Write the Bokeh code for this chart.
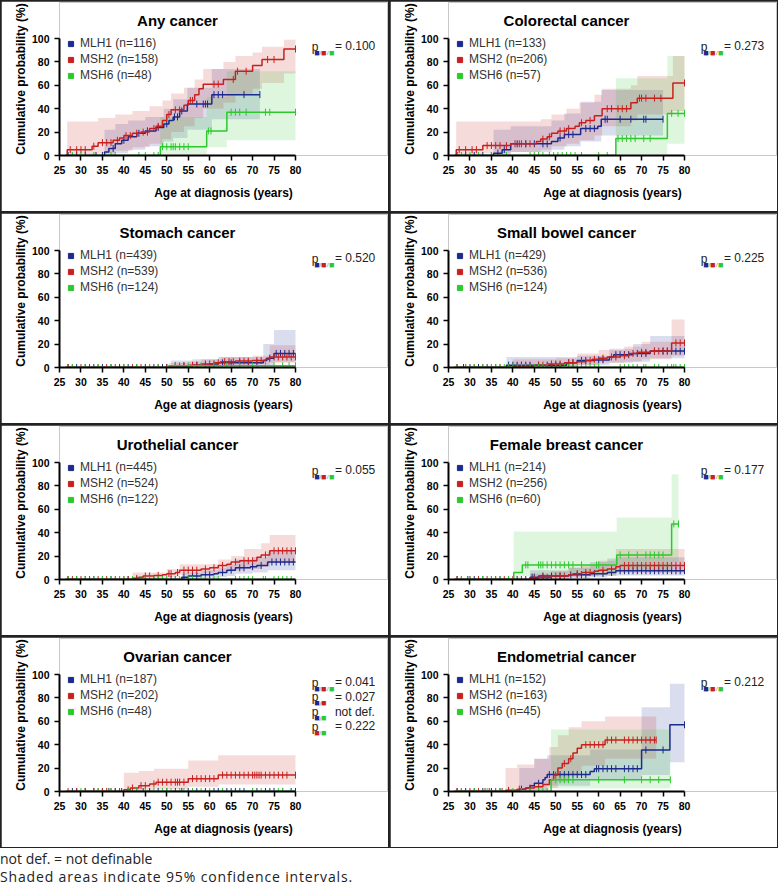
import numpy as np
from bokeh.plotting import figure
from bokeh.models import Label, Legend, LegendItem, Div, FixedTicker
from bokeh.layouts import gridplot, column
from bokeh.embed import file_html
from bokeh.resources import INLINE

GENES = ["MLH1", "MSH2", "MSH6"]
COLORS = ["#1b2a8c", "#c8201e", "#2ec82e"]
X_TICKS = [25, 30, 35, 40, 45, 50, 55, 60, 65, 70, 75, 80]
Y_TICKS = [0, 20, 40, 60, 80, 100]

TITLES = ["Any cancer", "Colorectal cancer", "Stomach cancer", "Small bowel cancer",
          "Urothelial cancer", "Female breast cancer", "Ovarian cancer", "Endometrial cancer"]
N_ANY = [116, 158, 48]
N_CRC = [133, 206, 57]
N_STO = [439, 539, 124]
N_SBW = [429, 536, 124]
N_URO = [445, 524, 122]
N_BRE = [214, 256, 60]
N_OVA = [187, 202, 48]
N_END = [152, 163, 45]
P_ANY = [("BRG", "= 0.100")]
P_CRC = [("BRG", "= 0.273")]
P_STO = [("BRG", "= 0.520")]
P_SBW = [("BRG", "= 0.225")]
P_URO = [("BRG", "= 0.055")]
P_BRE = [("BRG", "= 0.177")]
P_OVA = [("BRG", "= 0.041"), ("BR", "= 0.027"), ("BG", "not def."), ("RG", "= 0.222")]
P_END = [("BRG", "= 0.212")]

# ---------------- Any cancer ----------------
any_mlh1_x = [26.5, 35.5, 36.5, 38, 39.5, 41, 43, 45, 47.5, 49.3, 50.5, 51.5, 53, 54.8, 60.5, 71.7]
any_mlh1_y = [0, 3, 6, 10, 13, 16, 19, 21, 24, 27, 30, 33, 38, 44, 52, 52]
any_mlh1_c = [27, 29, 31, 33.5, 35, 37.5, 40, 43.5, 45.5, 48, 50, 51.8, 52.5, 53.5, 57, 58.5, 59, 59.5, 61, 62, 63, 68, 71.7]
any_mlh1_cx = [35.5, 38, 41, 45, 49.3, 51.5, 54.8, 60.5, 71.7]
any_mlh1_lo = [0.5, 2, 5, 8, 12, 15, 22, 31, 31]
any_mlh1_hi = [22, 27, 30, 33, 40, 48, 58, 74, 74]
any_msh2_x = [26.3, 26.8, 32.6, 34, 37.5, 39, 40, 42, 44, 46, 47.5, 49, 50, 51, 54, 55, 56.5, 57.5, 58.5, 63.2, 66, 70, 72.2, 77.3, 80]
any_msh2_y = [0, 5, 8, 11, 13, 15, 17, 19, 20, 23, 25, 30, 35, 39, 43, 47, 52, 57, 61, 65, 72, 77, 82, 91, 91]
any_msh2_c = [27.5, 29, 30, 31, 33, 35, 36, 37, 38.5, 40.5, 41.5, 43, 44.5, 45.5, 47, 48, 50.5, 52, 53, 55.5, 56, 61, 62, 65.5, 66.5, 68.5, 73.5, 75, 80]
any_msh2_cx = [26.8, 34, 38, 42, 46, 49, 51, 54, 56.5, 58.5, 63.2, 66, 70, 72.2, 77.3, 80]
any_msh2_lo = [1, 2, 4, 7, 10, 14, 20, 25, 32, 40, 45, 52, 57, 62, 70, 70]
any_msh2_hi = [29, 32, 35, 38, 42, 47, 53, 58, 65, 74, 80, 85, 88, 93, 99, 99]
any_msh6_x = [26.5, 48.5, 59.3, 64, 80]
any_msh6_y = [0, 7.5, 21, 37, 37]
any_msh6_c = [28, 30, 33, 37, 38, 43.5, 45, 47, 48, 49, 50, 51, 51.5, 52, 53, 54, 55, 59.7, 60.3, 65, 66, 67, 68.5, 73, 74, 80]
any_msh6_cx = [48.5, 59.3, 64, 80]
any_msh6_lo = [1, 7, 13, 13]
any_msh6_hi = [33, 50, 72, 72]

# ---------------- Colorectal cancer ----------------
crc_mlh1_x = [26.5, 35.5, 37.5, 39.5, 49, 50.5, 52, 55.8, 59.8, 60.6, 75]
crc_mlh1_y = [0, 2, 5, 10, 12, 15, 18, 23, 25, 31, 31]
crc_mlh1_c = [27, 29, 31, 33, 35, 36.5, 38, 41, 43, 45, 47, 48, 51, 53, 54, 57, 58, 59, 61.5, 62, 65, 67.5, 70.5, 71, 75]
crc_mlh1_cx = [35.5, 39.5, 49, 52, 55.8, 60.6, 75]
crc_mlh1_lo = [0.5, 3, 5, 8, 12, 17, 17]
crc_mlh1_hi = [22, 25, 30, 36, 46, 56, 56]
crc_msh2_x = [26.3, 26.8, 33, 39.5, 45.5, 46.5, 48, 49, 50.5, 52.5, 54.5, 55.5, 57, 59, 60.8, 67.5, 69, 77.3, 80]
crc_msh2_y = [0, 5, 8.5, 10, 12, 14, 16, 19, 21, 23, 25, 28, 30, 34, 40, 45, 49, 62, 62]
crc_msh2_c = [27.5, 29, 30.5, 31.5, 34, 35, 36, 37, 38.5, 40.5, 41.5, 42, 43, 44, 47, 48.5, 51, 52, 53, 56, 58, 62, 63, 64.5, 65.5, 66.5, 69.5, 70, 71, 73, 74.5, 80]
crc_msh2_cx = [26.8, 33, 39.5, 46.5, 49, 52.5, 55.5, 59, 60.8, 67.5, 69, 77.3, 80]
crc_msh2_lo = [1, 2, 3, 5, 8, 10, 13, 17, 25, 30, 35, 38, 38]
crc_msh2_hi = [29, 29, 29, 31, 35, 40, 45, 52, 57, 60, 68, 85, 85]
crc_msh6_x = [26.5, 64, 76, 80]
crc_msh6_y = [0, 14.5, 36, 36]
crc_msh6_c = [28, 30, 32, 35, 38.5, 44, 45, 46, 47, 48.5, 49.5, 50.5, 51.5, 52.5, 53.5, 54.5, 56, 60, 62, 64.5, 65.5, 66.5, 67.5, 68.5, 70.5, 72, 77, 78.5, 80]
crc_msh6_cx = [64, 76, 80]
crc_msh6_lo = [1, 10, 10]
crc_msh6_hi = [66, 85, 85]

# ---------------- Stomach cancer ----------------
sto_mlh1_x = [26.5, 51, 56, 60, 62, 72.5, 73.3, 75, 80]
sto_mlh1_y = [0, 1.5, 2, 3, 4, 6, 8, 12, 12]
sto_mlh1_c = [27, 29, 31, 33, 35, 37, 39, 41, 43, 45, 47, 49, 50, 52, 54, 57, 59, 61, 63, 65, 67, 69, 71, 74, 75.5, 76.5, 77.5, 78.5, 79.5]
sto_mlh1_cx = [51, 56, 62, 72.5, 75, 80]
sto_mlh1_lo = [0.2, 0.5, 1, 2, 5, 5]
sto_mlh1_hi = [6, 7, 9, 20, 32, 32]
sto_msh2_x = [26.3, 50.5, 55, 58, 61, 62.5, 66, 70, 73, 74, 80]
sto_msh2_y = [0, 1.2, 2, 3, 4, 5, 5.5, 6, 7, 9, 9]
sto_msh2_c = [27, 28, 30, 32, 34, 36, 38, 40, 42, 44, 46, 48, 50, 52, 53, 54, 56, 57, 59, 60, 62, 63.5, 64.5, 65.5, 67, 68, 69, 71, 72, 75, 76, 77, 78, 79, 80]
sto_msh2_cx = [50.5, 55, 58, 62.5, 70, 74, 80]
sto_msh2_lo = [0.2, 0.5, 1, 2, 2.5, 4, 4]
sto_msh2_hi = [4, 5, 7, 9, 10, 19, 19]
sto_msh6_x = [26.5, 50.5, 80]
sto_msh6_y = [0, 1.5, 1.5]
sto_msh6_c = [28, 31, 34, 37, 40, 43, 46, 48, 52, 55, 58, 61, 64, 67, 70, 73, 75, 77, 78.5, 80]
sto_msh6_cx = []
sto_msh6_lo = []
sto_msh6_hi = []

# ---------------- Small bowel cancer ----------------
sbw_mlh1_x = [26.5, 38.5, 52.5, 55, 59, 62.5, 63.5, 68, 72, 80]
sbw_mlh1_y = [0, 2, 4, 6, 6.5, 9, 11, 12, 14, 14]
sbw_mlh1_c = [27, 28.5, 30, 32, 34, 36, 39, 40, 41, 42, 43, 44, 46, 48, 50, 51, 53, 54, 56, 57, 60, 61, 64, 65, 66, 67, 69, 70, 71, 73, 75, 76, 77, 78, 79, 80]
sbw_mlh1_cx = [38.5, 52.5, 55, 62.5, 68, 72, 80]
sbw_mlh1_lo = [0.3, 0.8, 2, 4, 5, 8, 8]
sbw_mlh1_hi = [9, 9, 10, 16, 20, 27, 27]
sbw_msh2_x = [26.3, 40, 45, 48, 52, 55, 57, 58.5, 60, 62, 65, 67, 69, 72, 77, 80]
sbw_msh2_y = [0, 1, 2, 3, 4, 5, 6, 7, 8, 9, 10, 12, 13, 14, 21, 21]
sbw_msh2_c = [27, 29, 31, 33, 35, 37, 39, 41, 42, 43, 44, 46, 47, 49, 50, 51, 53, 54, 56, 58, 59, 61, 63, 64, 66, 68, 70, 71, 73, 74, 75, 76, 78, 79, 80]
sbw_msh2_cx = [40, 50, 55, 60, 66, 70, 77, 80]
sbw_msh2_lo = [0.2, 0.8, 2, 4, 5, 7, 10, 10]
sbw_msh2_hi = [7, 8, 12, 15, 18, 22, 41, 41]
sbw_msh6_x = [26.5, 80]
sbw_msh6_y = [0, 0]
sbw_msh6_c = [27, 29, 31, 33, 35, 36, 37, 38, 39, 40, 41, 42, 43, 44, 45, 46, 47, 48, 50, 51, 52, 53, 54, 55, 56, 57, 58, 59, 60, 65, 66, 67, 68, 69, 70.5, 71, 73, 74, 76, 77, 77.5, 78, 79, 80]
sbw_msh6_cx = []
sbw_msh6_lo = []
sbw_msh6_hi = []

# ---------------- Urothelial cancer ----------------
uro_mlh1_x = [26.5, 53.5, 55, 58, 61, 62, 64, 66, 69.5, 71, 73.5, 80]
uro_mlh1_y = [0, 2, 3, 4, 5, 6, 8, 10, 11, 12, 15, 15]
uro_mlh1_c = [27, 29, 31, 33, 35, 37, 39, 41, 43, 45, 47, 49, 51, 52, 54, 56, 57, 59, 60, 63, 65, 67, 68, 70, 72, 74.5, 75.5, 76.5, 77.5, 78.5, 79.5]
uro_mlh1_cx = [53.5, 58, 62, 64, 66, 70, 73.5, 80]
uro_mlh1_lo = [0.3, 1, 2, 3, 5, 6, 8, 8]
uro_mlh1_hi = [6, 8, 10, 13, 17, 19, 24, 24]
uro_msh2_x = [26.3, 42, 43.5, 44.5, 47, 49, 50, 52, 53, 58, 60, 62, 64, 65, 67, 71, 72, 74, 80]
uro_msh2_y = [0, 1, 2, 3, 3.5, 4, 5, 6, 8, 9, 10, 12, 13, 15, 16, 19, 21, 24.5, 24.5]
uro_msh2_c = [27, 28, 30, 32, 34, 36, 38, 40, 41, 43, 45, 46, 48, 50.5, 51, 52.5, 54, 55, 56, 57, 59, 61, 63, 66, 68, 69, 70, 73, 75, 76, 77, 78, 79, 80]
uro_msh2_cx = [42, 50, 53, 58, 62, 65, 68, 72, 74, 80]
uro_msh2_lo = [0.2, 2, 4, 5, 7, 8, 9, 11, 14, 14]
uro_msh2_hi = [6, 9, 13, 13, 17, 20, 26, 31, 38, 38]
uro_msh6_x = [26.5, 80]
uro_msh6_y = [0, 0]
uro_msh6_c = [27, 29, 31, 33, 35, 37, 39, 40, 42, 44, 45, 46, 47, 48, 49, 50, 52, 53, 55, 56, 58, 59, 61, 62, 66, 67, 68, 69, 70, 72.5, 73, 75, 76, 77, 78, 79]
uro_msh6_cx = []
uro_msh6_lo = []
uro_msh6_hi = []

# ---------------- Female breast cancer ----------------
bre_mlh1_x = [26.5, 44, 46, 53, 58, 62, 64, 80]
bre_mlh1_y = [0, 2, 3, 4, 5, 6, 7.5, 7.5]
bre_mlh1_c = [27, 29.5, 31, 33, 35, 37, 39, 41, 43, 44.5, 45, 47, 49, 51, 53.5, 55, 56, 57, 59, 61, 63, 65, 66, 67, 68, 69, 70, 71, 72, 73, 74, 75, 76, 77, 78, 79, 80]
bre_mlh1_cx = [44, 53, 58, 62, 64, 80]
bre_mlh1_lo = [0.3, 1, 2, 3, 3.5, 3.5]
bre_mlh1_hi = [8, 10, 15, 18, 19, 19]
bre_msh2_x = [26.3, 44, 46, 49, 53, 54, 56, 59, 60, 62, 64, 65, 80]
bre_msh2_y = [0, 1, 2, 3, 4, 5, 6, 7, 8, 9, 11, 12, 12]
bre_msh2_c = [27, 28, 30, 32, 34, 36, 38, 40, 42, 45, 47, 48, 50, 51, 52, 55, 57, 58, 61, 63, 66, 67, 68, 69, 70, 71, 72, 73, 74, 75, 76, 77, 78, 79, 80]
bre_msh2_cx = [44, 49, 53, 56, 60, 64, 80]
bre_msh2_lo = [0.2, 1, 2, 3, 4, 6, 6]
bre_msh2_hi = [5, 7, 10, 12, 16, 26, 26]
bre_msh6_x = [26.5, 40.2, 42.2, 64.2, 77, 78.6]
bre_msh6_y = [0, 6, 12.5, 21, 47.5, 47.5]
bre_msh6_c = [28, 30, 33, 35, 37, 39, 43, 43.5, 46, 46.5, 47, 48, 49, 50, 51, 52, 53, 54, 56, 59.5, 60, 65, 67, 69, 71, 72, 73, 74, 75, 77.5, 78.6]
bre_msh6_cx = [40.2, 42.2, 64.2, 77, 78.6]
bre_msh6_lo = [0.5, 3, 8, 15, 15]
bre_msh6_hi = [41, 41, 53, 90, 90]

# ---------------- Ovarian cancer ----------------
ova_mlh1_x = [26.5, 80]
ova_mlh1_y = [0, 0]
ova_mlh1_c = [28, 29, 31, 33, 35, 36.5, 38, 39.5, 41, 43, 44.5, 46, 48, 50, 52, 53.5, 55, 57, 59, 61, 62, 63, 64, 65, 66, 67, 68, 70, 71, 73, 74, 75, 77, 79, 80]
ova_mlh1_cx = []
ova_mlh1_lo = []
ova_mlh1_hi = []
ova_msh2_x = [26.3, 40, 41.5, 43.5, 46, 47.5, 55, 62, 80]
ova_msh2_y = [0, 1.5, 3, 5, 6.5, 8, 11, 14, 14]
ova_msh2_c = [27, 29, 31, 33, 34, 35, 36, 37, 38, 39, 41, 42, 44, 45, 47, 48, 49, 50, 51, 52, 52.5, 53, 54, 56, 57, 58, 59, 60, 61, 63, 64, 65, 66, 67, 68, 69, 70, 70.5, 71, 71.5, 72, 73, 74, 75, 76, 77, 78, 80]
ova_msh2_cx = [40, 43.5, 47, 55, 62, 80]
ova_msh2_lo = [0.3, 0.5, 2, 4, 6, 6]
ova_msh2_hi = [16, 17.5, 19.5, 26.5, 31, 31]
ova_msh6_x = [26.5, 80]
ova_msh6_y = [0, 0]
ova_msh6_c = [30, 34, 37, 41, 43, 45, 47, 49, 50, 51, 53, 54, 56, 58, 60, 63, 67, 70, 72, 74, 76, 77, 79]
ova_msh6_cx = []
ova_msh6_lo = []
ova_msh6_hi = []

# ---------------- Endometrial cancer ----------------
end_mlh1_x = [26.5, 41.5, 43, 44, 45, 47, 47.5, 48, 58, 59, 70, 76.6, 80]
end_mlh1_y = [0, 2, 3, 5, 7, 10, 12, 14.5, 17, 19.5, 35.5, 57, 57]
end_mlh1_c = [27, 29, 31, 33, 35, 37, 39, 42, 46, 48.5, 49.5, 51, 52, 53, 54, 55, 56, 57, 59.5, 60, 61, 62, 63, 64, 66, 67, 68, 69, 71, 75, 80]
end_mlh1_cx = [41.5, 45, 48, 58, 70, 76.6, 80]
end_mlh1_lo = [0.3, 1, 5, 10, 14, 25, 25]
end_mlh1_hi = [20, 28, 31, 36, 72, 92, 92]
end_msh2_x = [26.3, 38.3, 41, 43, 45, 47, 48.5, 49.5, 50.5, 51.5, 53, 54, 55, 56, 61.5, 73.4]
end_msh2_y = [0, 1, 2, 3, 4, 6, 10, 14, 20, 24, 28, 33, 37, 40, 44, 44]
end_msh2_c = [27, 28, 30, 32, 33.5, 34.5, 36, 37.5, 39, 41.5, 44, 46, 50, 52, 53.5, 57, 58, 59, 60, 61, 62, 63, 64, 66, 67, 68, 69, 70, 71, 72, 73, 73.4]
end_msh2_cx = [38.3, 41, 45, 48.5, 50.5, 53, 56, 61.5, 73.4]
end_msh2_lo = [0.3, 0.5, 1, 3, 8, 15, 22, 28, 28]
end_msh2_hi = [20, 23, 28, 38, 48, 55, 60, 64, 64]
end_msh6_x = [26.5, 48.9, 76.7]
end_msh6_y = [0, 10, 10]
end_msh6_c = [28, 31, 34, 37, 40, 42, 44, 46, 47, 48, 50, 51, 52, 53, 54, 60, 66, 70, 72, 74, 76.7]
end_msh6_cx = [48.9, 76.7]
end_msh6_lo = [2.5, 2.5]
end_msh6_hi = [53, 53]

# ---------------- layout constants (pixels) ----------------
PW, PH = 387, 210            # panel size
BL, BB, BT, BR = 58, 56, 1, 1  # borders around the frame
AX_W, AX_H = 236, 117        # pixel extent of the 25-80 / 0-100 axes
FW, FH = PW - BL - BR, PH - BB - BT
X_END = 25 + 55 * FW / AX_W
Y_END = 100 * FH / AX_H
FONT = "Liberation Sans"
SQ_COL = {"B": COLORS[0], "R": COLORS[1], "G": COLORS[2]}
ROW1 = 109.5  # centre of first legend / p-value row above frame bottom


def make_panel(title, ns, series, pvals):
    p = figure(width=PW, height=PH, x_range=(25, X_END), y_range=(0, Y_END),
               output_backend="svg", toolbar_location=None,
               min_border_left=BL, min_border_right=BR,
               min_border_top=BT, min_border_bottom=BB, margin=(1, 1, 1, 1))
    p.xgrid.visible = False
    p.ygrid.visible = False
    p.outline_line_color = None
    p.xaxis.ticker = FixedTicker(ticks=X_TICKS)
    p.yaxis.ticker = FixedTicker(ticks=Y_TICKS)
    p.xaxis.bounds = (25, 80)
    p.yaxis.bounds = (0, 100)
    p.xaxis.axis_label = "Age at diagnosis (years)"
    p.yaxis.axis_label = "Cumulative probability (%)"
    for ax in (p.xaxis[0], p.yaxis[0]):
        ax.axis_line_width = 2
        ax.axis_line_color = "black"
        ax.major_tick_line_width = 1.5
        ax.major_tick_line_color = "black"
        ax.major_tick_out = 5
        ax.major_tick_in = 0
        ax.minor_tick_line_color = None
        ax.major_label_text_font = FONT
        ax.major_label_text_font_style = "bold"
        ax.major_label_text_font_size = "10.5px"
        ax.major_label_text_color = "black"
        ax.axis_label_text_font = FONT
        ax.axis_label_text_font_style = "bold"
        ax.axis_label_text_font_size = "12px"
        ax.axis_label_text_color = "black"
    p.xaxis.major_label_standoff = 5
    p.yaxis.major_label_standoff = 5
    p.xaxis.axis_label_standoff = 9
    p.yaxis.axis_label_standoff = 1

    for (x, y, cens, cx, lo, hi), c in zip(series, COLORS):
        if cx:
            p.varea_step(x=cx, y1=lo, y2=hi, step_mode="after", fill_color=c, fill_alpha=0.16)
    items = []
    for (x, y, cens, cx, lo, hi), c, g, n in zip(series, COLORS, GENES, ns):
        p.step(x=x, y=y, mode="after", line_color=c, line_width=1.5)
        xs = np.asarray(x, dtype=float)
        ys = np.asarray(y, dtype=float)
        idx = np.clip(np.searchsorted(xs, cens, side="right") - 1, 0, len(ys) - 1)
        p.scatter(x=list(cens), y=list(ys[idx]), marker="dash", angle=np.pi / 2, size=7,
                  line_color=c, line_width=1)
        r = p.scatter(x=[np.nan], y=[np.nan], marker="square", fill_color=c, line_color=c)
        items.append(LegendItem(label=f"{g} (n={n})", renderers=[r]))
    leg = Legend(items=items, location=(5, ROW1 + 6.5 - 43), padding=0, margin=0, spacing=2,
                 glyph_width=13, glyph_height=13, label_height=13, label_standoff=3,
                 label_text_font=FONT, label_text_font_size="12px", label_text_color="#333333",
                 border_line_color=None, background_fill_alpha=0)
    p.add_layout(leg)

    p.add_layout(Label(x=AX_W / 2, y=AX_H + 17.8, x_units="screen", y_units="screen", text=title,
                       text_align="center", text_baseline="middle", text_font=FONT,
                       text_font_style="bold", text_font_size="15px", text_color="black"))
    sq_left = [254.8, 261.6, 269.5]
    sl_x = [260.0, 267.4]
    for i, (cols, txt) in enumerate(pvals):
        yc = ROW1 - i * 14.8
        p.add_layout(Label(x=252.2, y=yc - 0.5, x_units="screen", y_units="screen", text="p",
                           text_baseline="middle", text_font=FONT, text_font_size="12px",
                           text_color="#222222"))
        for j, ch in enumerate(cols):
            p.add_layout(Label(x=sq_left[j], y=yc - 6.5, x_units="screen", y_units="screen",
                               text="\u25a0", text_baseline="middle", text_font=FONT,
                               text_font_size="9px", text_color=SQ_COL[ch]))
            if j < len(cols) - 1:
                p.add_layout(Label(x=sl_x[j], y=yc - 7.0, x_units="screen", y_units="screen",
                                   text="/", text_baseline="middle", text_font=FONT,
                                   text_font_size="6px", text_color="#777777"))
        p.add_layout(Label(x=275.4, y=yc, x_units="screen", y_units="screen", text=txt,
                           text_baseline="middle", text_font=FONT, text_font_size="12px",
                           text_color="#222222"))
    return p


def ser(prefix):
    g = globals()
    out = []
    for gene in ("mlh1", "msh2", "msh6"):
        k = f"{prefix}_{gene}_"
        out.append((g[k + "x"], g[k + "y"], g[k + "c"], g[k + "cx"], g[k + "lo"], g[k + "hi"]))
    return out


panels = [
    make_panel(TITLES[0], N_ANY, ser("any"), P_ANY),
    make_panel(TITLES[1], N_CRC, ser("crc"), P_CRC),
    make_panel(TITLES[2], N_STO, ser("sto"), P_STO),
    make_panel(TITLES[3], N_SBW, ser("sbw"), P_SBW),
    make_panel(TITLES[4], N_URO, ser("uro"), P_URO),
    make_panel(TITLES[5], N_BRE, ser("bre"), P_BRE),
    make_panel(TITLES[6], N_OVA, ser("ova"), P_OVA),
    make_panel(TITLES[7], N_END, ser("end"), P_END),
]

grid = gridplot([panels[0:2], panels[2:4], panels[4:6], panels[6:8]], toolbar_location=None)
grid.styles = {"background-color": "#222222"}
note = Div(text=("<div style='padding-top:2px'>not def. = not definable<br>"
                 "<span style='letter-spacing:0.85px'>"
                 "Shaded areas indicate 95% confidence intervals.</span></div>"),
           width=778, height=38, margin=(0, 0, 0, 0),
           styles={"font-family": "'Open Sans'", "font-size": "14px", "line-height": "18px",
                   "color": "#222222"})
layout = column(grid, note)
open("out.html", "w").write(file_html(layout, INLINE))
